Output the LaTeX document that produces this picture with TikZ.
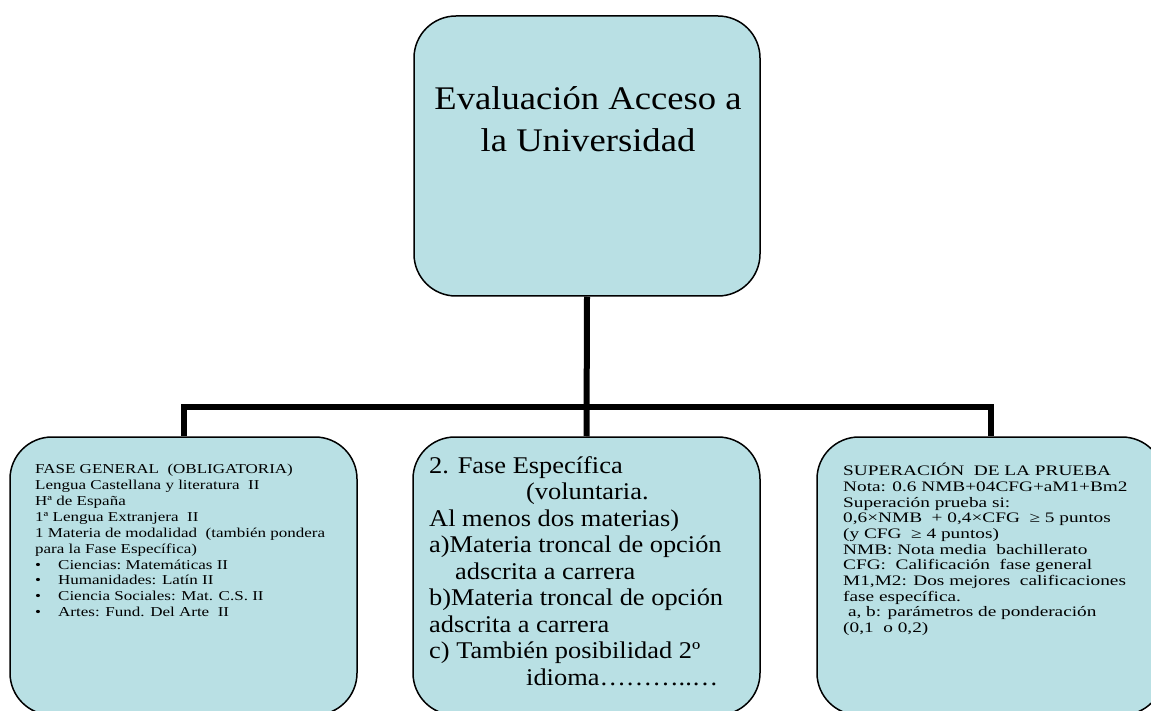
\documentclass[tikz,border=0pt]{standalone}
\usepackage{fontspec}
\setmainfont{Liberation Serif}
\newfontfamily\ttlfont[FakeStretch=1.11]{Liberation Serif}
\newfontfamily\midfont[FakeStretch=1.10]{Liberation Serif}
\newfontfamily\lftfont[FakeStretch=1.25]{Liberation Serif}
\newfontfamily\rgtfont[FakeStretch=1.33]{Liberation Serif}
\definecolor{boxfill}{RGB}{185,224,228}
\tikzset{
  box/.style={draw=black, line width=1.5pt, fill=boxfill, rounded corners=42pt, inner sep=0pt},
  conn/.style={draw=black, line width=6pt, line join=miter},
  txt/.style={inner sep=0pt, align=left, anchor=north west},
}
\begin{document}
\begin{tikzpicture}[x=1pt,y=-1pt]
\useasboundingbox (0,0) rectangle (1151,711);
\node[box, minimum width=346pt, minimum height=280pt] (top) at (587,156) {};
\node[box, minimum width=347pt, minimum height=278pt] (left) at (183.5,576) {};
\node[box, minimum width=347pt, minimum height=278pt] (mid) at (586.5,576) {};
\node[box, minimum width=347pt, minimum height=278pt] (right) at (990.5,576) {};
\coordinate (hub) at (587,407);
\draw[conn] (top.south) -- (mid.north);
\draw[conn] (left.north) -- (left.north |- hub) -- (right.north |- hub) -- (right.north);
\node[inner sep=0pt, align=center, anchor=north, font=\ttlfont\fontsize{33}{42}\selectfont] (ttl) at (588,86)
  {Evaluación Acceso a\\la Universidad};
\node[txt, font=\lftfont\fontsize{13.6}{15.9}\selectfont] (ltxt) at (35,464) {%
FASE GENERAL\ \ (OBLIGATORIA)\\
Lengua Castellana y literatura\ \ II\\
Hª de España\\
1ª Lengua Extranjera\ \ II\\
1 Materia de modalidad\ \ (también pondera\\
para la Fase Específica)\\
\makebox[23pt][l]{•}Ciencias:\ Matemáticas II\\
\makebox[23pt][l]{•}Humanidades: Latín II\\
\makebox[23pt][l]{•}Ciencia\ Sociales: Mat. C.S. II\\
\makebox[23pt][l]{•}Artes: Fund. Del\ Arte\ \ II};
\node[txt, font=\midfont\fontsize{24}{26.5}\selectfont] (mtxt) at (429,456) {%
2. Fase Específica\\
\hspace*{97pt}(voluntaria.\\
Al menos dos materias)\\
a)Materia troncal de opción\\
\hspace*{26pt}adscrita a carrera\\
b)Materia troncal de opción\\
adscrita a carrera\\
c) También posibilidad 2º\\
\hspace*{97pt}idioma………..…};
\node[txt, font=\rgtfont\fontsize{14.5}{15.7}\selectfont] (rtxt) at (843,463) {%
SUPERACIÓN\ \ DE LA PRUEBA\\
Nota: 0.6 NMB+04CFG+aM1+Bm2\\
Superación prueba si:\\
0,6×NMB\ \ + 0,4×CFG\ \ ≥ 5 puntos\\
(y CFG\ \ ≥ 4 puntos)\\
NMB: Nota media\ \ bachillerato\\
CFG:\ \ Calificación\ \ fase general\\
M1,M2: Dos mejores\ \ calificaciones\\
fase específica.\\
\ a, b: parámetros de ponderación\\
(0,1\ \ o 0,2)};
\end{tikzpicture}
\end{document}
